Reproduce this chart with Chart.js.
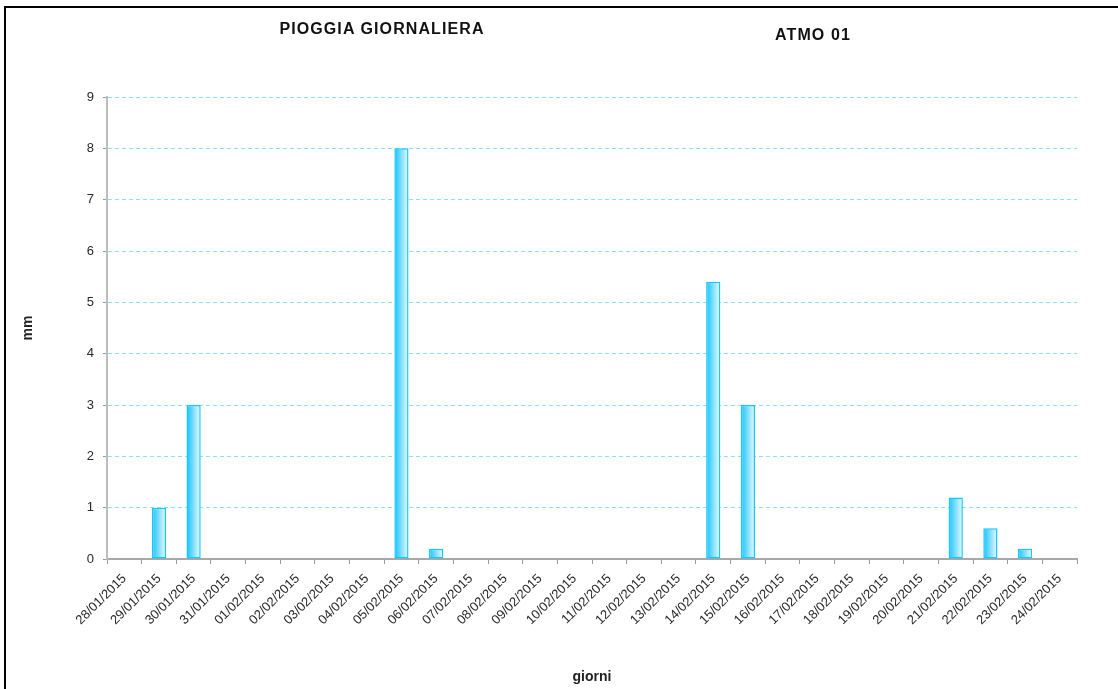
<!DOCTYPE html>
<html>
<head>
<meta charset="utf-8">
<script src="https://cdn.jsdelivr.net/npm/chart.js@4/dist/chart.umd.min.js"></script>
<style>
  html, body { margin: 0; padding: 0; background: #fff; }
  #wrap { position: relative; width: 1118px; height: 689px; overflow: hidden; }
  #frame { position: absolute; left: 4px; top: 6px; width: 1200px; height: 800px; border-left: 2px solid #000; border-top: 2px solid #000; }
  canvas { position: absolute; left: 0; top: 0; }
  .ttl { position: absolute; width: 400px; text-align: center; font: bold 16px "Liberation Sans", Arial, sans-serif; line-height: 16px; letter-spacing: 1.1px; color: #111; }
</style>
</head>
<body>
<div id="wrap">
  <div id="frame"></div>
  <canvas id="c" width="1118" height="689"></canvas>
  <div class="ttl" style="left:182px; top:21px;">PIOGGIA GIORNALIERA</div>
  <div class="ttl" style="left:613px; top:27px;">ATMO 01</div>
</div>
<script>
const giorni = [
  "28/01/2015","29/01/2015","30/01/2015","31/01/2015","01/02/2015","02/02/2015","03/02/2015",
  "04/02/2015","05/02/2015","06/02/2015","07/02/2015","08/02/2015","09/02/2015","10/02/2015",
  "11/02/2015","12/02/2015","13/02/2015","14/02/2015","15/02/2015","16/02/2015","17/02/2015",
  "18/02/2015","19/02/2015","20/02/2015","21/02/2015","22/02/2015","23/02/2015","24/02/2015"
];
const pioggia = [0, 1, 3, 0, 0, 0, 0, 0, 8, 0.2, 0, 0, 0, 0, 0, 0, 0, 5.4, 3, 0, 0, 0, 0, 0, 1.2, 0.6, 0.2, 0];
const yTicks = [0, 1, 2, 3, 4, 5, 6, 7, 8, 9];

const FONT = '"Liberation Sans", Arial, sans-serif';

function barGradient(ctx) {
  const chart = ctx.chart;
  const xs = chart.scales && chart.scales.x;
  if (!chart.chartArea || !xs || ctx.type !== 'data') return '#7fdcff';
  const cx = xs.getPixelForValue(ctx.dataIndex);
  const w = (xs.width / giorni.length) * 0.41;
  const g = chart.ctx.createLinearGradient(cx - w / 2, 0, cx + w / 2, 0);
  g.addColorStop(0, '#10c4ff');
  g.addColorStop(0.3, '#55d4ff');
  g.addColorStop(1, '#f0faff');
  return g;
}

new Chart(document.getElementById('c'), {
  type: 'bar',
  data: {
    labels: giorni,
    datasets: [{
      data: pioggia,
      backgroundColor: barGradient,
      borderColor: '#12c8ff',
      borderWidth: 1.5,
      borderSkipped: false,
      categoryPercentage: 1.0,
      barPercentage: 0.41
    }]
  },
  options: {
    responsive: false,
    animation: false,
    devicePixelRatio: 1,
    layout: { padding: { left: 0, top: 97, right: 41, bottom: 0 } },
    plugins: { legend: { display: false }, tooltip: { enabled: false }, title: { display: false } },
    scales: {
      x: {
        offset: true,
        grid: { display: true, drawOnChartArea: false, drawTicks: true, tickLength: 5, tickColor: '#9a9a9a', offset: true },
        border: { display: true, color: '#a8a8a8', width: 2 },
        ticks: {
          autoSkip: false, maxRotation: 45, minRotation: 45, padding: 7,
          color: '#2a2a2a', font: { family: FONT, size: 13 }
        },
        title: { display: true, text: 'giorni', color: '#222', font: { family: FONT, size: 14, weight: 'bold' }, padding: { top: 0, bottom: 3 } },
        afterFit: (s) => { s.height = 130; }
      },
      y: {
        min: 0, max: 9,
        afterBuildTicks: (s) => { s.ticks = yTicks.map(v => ({ value: v })); },
        grid: {
          color: (c) => (c.tick && c.tick.value === 0) ? 'rgba(0,0,0,0)' : '#8fdef8',
          lineWidth: 1, drawTicks: true, tickLength: 4, tickColor: '#9a9a9a'
        },
        border: { display: true, color: '#bdbdbd', width: 2, dash: [4, 3] },
        ticks: { stepSize: 1, padding: 9, color: '#2a2a2a', font: { family: FONT, size: 13 } },
        title: { display: true, text: 'mm', color: '#222', font: { family: FONT, size: 14, weight: 'bold' }, padding: { top: 20, bottom: 0 } },
        afterFit: (s) => { s.width = 107; }
      }
    }
  }
});
</script>
</body>
</html>
